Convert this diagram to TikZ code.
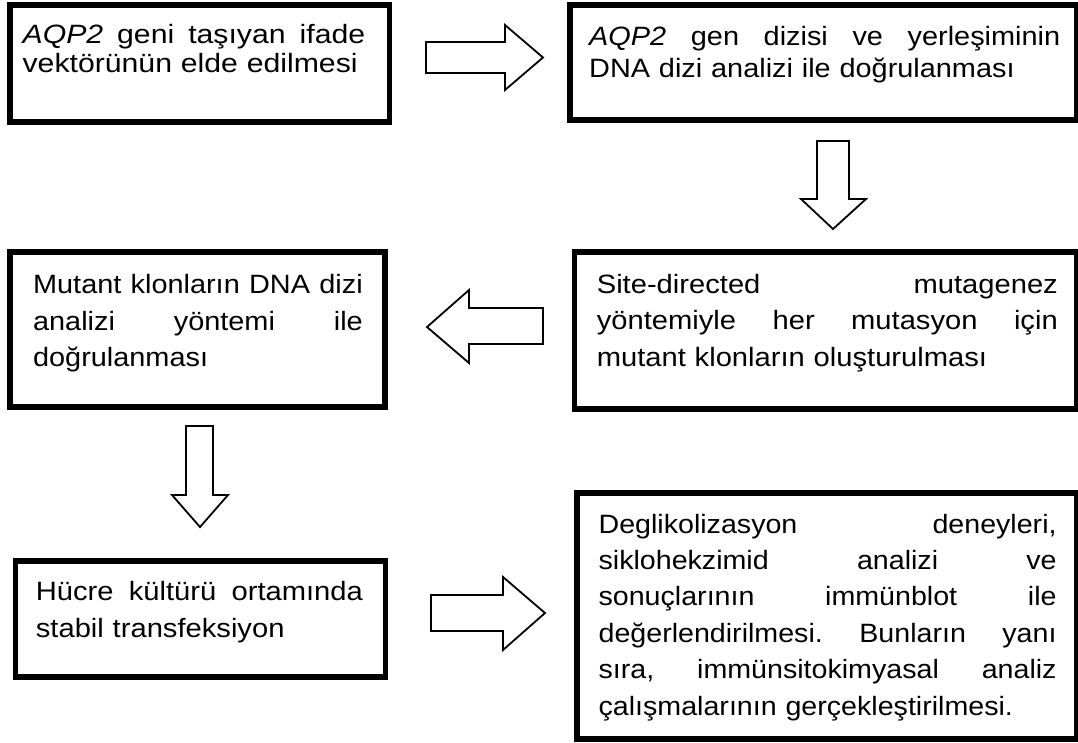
\documentclass[tikz,border=0pt]{standalone}
\usepackage{fontspec}
\setmainfont{Liberation Sans}
\newfontfamily\fA[FakeStretch=1.14]{Liberation Sans}
\newfontfamily\fB[FakeStretch=1.09]{Liberation Sans}
\newfontfamily\fC[FakeStretch=1.09]{Liberation Sans}
\newfontfamily\fD[FakeStretch=1.10]{Liberation Sans}
\newfontfamily\fE[FakeStretch=1.10]{Liberation Sans}
\newfontfamily\fF[FakeStretch=1.08]{Liberation Sans}
\tikzset{
  flowbox/.style={draw=black, line width=5.5pt, fill=white, inner sep=0pt},
  flowtext/.style={anchor=base west, inner sep=0pt, align=left},
  blockarrow/.style={draw=black, line width=1.8pt, fill=white, line join=miter},
}
\newcommand{\jl}[2]{\makebox[#1pt][l]{#2}}
\newcommand{\wsp}{\hspace{0.2em plus 1fill}}
\begin{document}
\begin{tikzpicture}[x=1pt,y=-1pt]
\useasboundingbox (0,0) rectangle (1078,742);
\clip (0,0) rectangle (1078,742);
% boxes
\node[flowbox, minimum width=379.6pt, minimum height=117pt] (b1) at (199.8,63.5) {};
\node[flowbox, minimum width=507.3pt, minimum height=115pt] (b2) at (823.4,62.5) {};
\node[flowbox, minimum width=375pt, minimum height=155pt] (b3) at (197.5,329.5) {};
\node[flowbox, minimum width=502.4pt, minimum height=157pt] (b4) at (825.8,330.5) {};
\node[flowbox, minimum width=370pt, minimum height=116pt] (b5) at (200.5,619) {};
\node[flowbox, minimum width=500pt, minimum height=246pt] (b6) at (827,616) {};
% texts
\node[flowtext, text width=342.6pt, font={\fA\fontsize{26.5}{29.5}\selectfont}] (t1) at (22.4,43)
  {\jl{342.6}{\textit{AQP2}\wsp geni\wsp taşıyan\wsp ifade}\\vektörünün elde edilmesi};
\node[flowtext, text width=471pt, font={\fB\fontsize{26.5}{32.5}\selectfont}] (t2) at (589,45)
  {\jl{471}{\textit{AQP2}\wsp gen\wsp dizisi\wsp ve\wsp yerleşiminin}\\DNA dizi analizi ile doğrulanması};
\node[flowtext, text width=329.7pt, font={\fC\fontsize{26.5}{36.7}\selectfont}] (t3) at (32.9,293.3)
  {\jl{329.7}{Mutant\wsp klonların\wsp DNA\wsp dizi}\\\jl{329.7}{analizi\wsp yöntemi\wsp ile}\\doğrulanması};
\node[flowtext, text width=461pt, font={\fD\fontsize{26.5}{36.5}\selectfont}] (t4) at (596.6,293)
  {\jl{461}{Site-directed\wsp mutagenez}\\\jl{461}{yöntemiyle\wsp her\wsp mutasyon\wsp için}\\mutant klonların oluşturulması};
\node[flowtext, text width=327pt, font={\fE\fontsize{26.5}{37}\selectfont}] (t5) at (35.7,600)
  {\jl{327}{Hücre\wsp kültürü\wsp ortamında}\\stabil transfeksiyon};
\node[flowtext, text width=458pt, font={\fF\fontsize{26.5}{36.4}\selectfont}] (t6) at (598.4,533)
  {\jl{458}{Deglikolizasyon\wsp deneyleri,}\\\jl{458}{siklohekzimid\wsp analizi\wsp ve}\\\jl{458}{sonuçlarının\wsp immünblot\wsp ile}\\\jl{458}{değerlendirilmesi.\wsp Bunların\wsp yanı}\\\jl{458}{sıra,\wsp immünsitokimyasal\wsp analiz}\\çalışmalarının gerçekleştirilmesi.};
% block arrows
\draw[blockarrow] (426,42) -- (505,42) -- (505,25) -- (543,57.5) -- (505,90) -- (505,73) -- (426,73) -- cycle;
\draw[blockarrow] (817,141) -- (849,141) -- (849,199) -- (866,199) -- (833,229) -- (801,199) -- (817,199) -- cycle;
\draw[blockarrow] (543,308) -- (469,308) -- (469,290) -- (427,327) -- (469,363) -- (469,344) -- (543,344) -- cycle;
\draw[blockarrow] (186,426) -- (213,426) -- (213,495) -- (228,495) -- (200,527) -- (172,495) -- (186,495) -- cycle;
\draw[blockarrow] (431,595) -- (503,595) -- (503,577) -- (545,613) -- (503,650) -- (503,631) -- (431,631) -- cycle;
\end{tikzpicture}
\end{document}
